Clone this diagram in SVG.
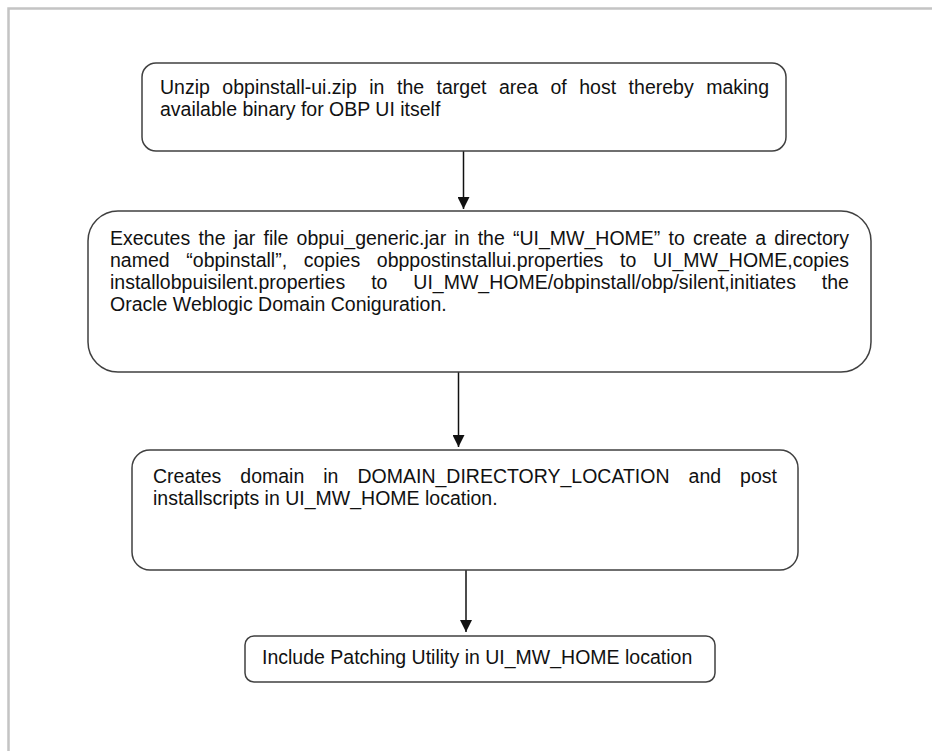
<svg xmlns="http://www.w3.org/2000/svg" width="932" height="751" viewBox="0 0 932 751">
<style>
.box{fill:#ffffff;stroke:#404040;stroke-width:1.5}
.t{font-family:"Liberation Sans",Arial,sans-serif;font-size:19.5px;fill:#111111}
.c{stroke:#111111;stroke-width:1.5;fill:none}
.page{stroke:#c4c4c4;stroke-width:2.5;fill:none}
</style>
<defs>
<marker id="ah" markerUnits="userSpaceOnUse" markerWidth="12" markerHeight="12" viewBox="0 0 12 12" refX="12" refY="6" orient="auto">
<path d="M0,0 L12,6 L0,12 Z" fill="#111111"/>
</marker>
</defs>
<rect width="932" height="751" fill="#ffffff"/>
<path class="page" d="M8.5,751 V8.5 H932"/>
<g id="connectors">
<line class="c" x1="463.5" y1="151" x2="463.5" y2="209" marker-end="url(#ah)"/>
<line class="c" x1="458.5" y1="372" x2="458.5" y2="447" marker-end="url(#ah)"/>
<line class="c" x1="466" y1="570" x2="466" y2="632" marker-end="url(#ah)"/>
</g>
<g id="node1">
<rect class="box" x="142" y="63" width="644" height="88" rx="14"/>
<text class="t" x="160" y="94" word-spacing="7.09">Unzip obpinstall-ui.zip in the target area of host thereby making</text>
<text class="t" x="160" y="116">available binary for OBP UI itself</text>
</g>
<g id="node2">
<rect class="box" x="88" y="211" width="783" height="161" rx="30"/>
<text class="t" x="110" y="245" word-spacing="2.75">Executes the jar file obpui_generic.jar in the “UI_MW_HOME” to create a directory</text>
<text class="t" x="110" y="267" word-spacing="11.26">named “obpinstall”, copies obppostinstallui.properties to UI_MW_HOME,copies</text>
<text class="t" x="110" y="289" word-spacing="20.5">installobpuisilent.properties to UI_MW_HOME/obpinstall/obp/silent,initiates the</text>
<text class="t" x="110" y="311">Oracle Weblogic Domain Coniguration.</text>
</g>
<g id="node3">
<rect class="box" x="132" y="450" width="666" height="120" rx="18"/>
<text class="t" x="153" y="483" word-spacing="13.6">Creates domain in DOMAIN_DIRECTORY_LOCATION and post</text>
<text class="t" x="153" y="505">installscripts in UI_MW_HOME location.</text>
</g>
<g id="node4">
<rect class="box" x="245" y="636" width="470" height="46" rx="9"/>
<text class="t" x="262" y="664">Include Patching Utility in UI_MW_HOME location</text>
</g>
</svg>
